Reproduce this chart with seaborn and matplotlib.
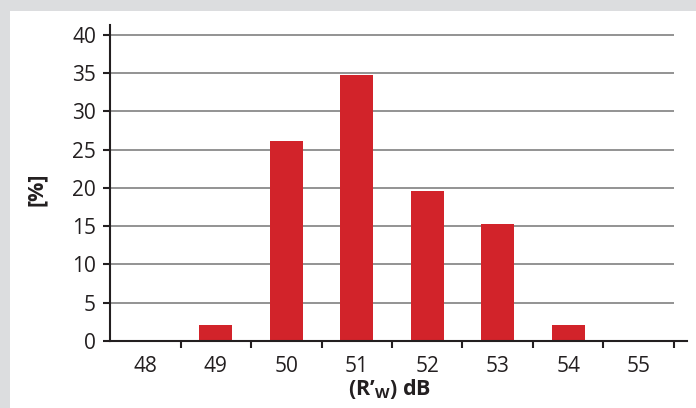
import seaborn as sns
import matplotlib.pyplot as plt
import matplotlib.patches as patches
import pandas as pd

# Distribution of R'w values (percent of measurements)
categories = ['48', '49', '50', '51', '52', '53', '54', '55']
percent = [0, 2.1, 26.1, 34.7, 19.6, 15.3, 2.1, 0]
y_ticks = [0, 5, 10, 15, 20, 25, 30, 35, 40]

df = pd.DataFrame({'rw': categories, 'pct': percent})

sns.set_theme(style='white')
plt.rcParams['font.family'] = ['Open Sans', 'DejaVu Sans']
plt.rcParams['mathtext.fontset'] = 'custom'
plt.rcParams['mathtext.rm'] = 'Open Sans'
plt.rcParams['mathtext.bf'] = 'Open Sans:bold'

fig = plt.figure(figsize=(6.96, 4.08), dpi=100, facecolor='#dcdddf')
# white card on the grey background
fig.patches.append(patches.Rectangle((10 / 696, 0), 1, 1 - 11 / 408, transform=fig.transFigure,
                                     facecolor='white', edgecolor='none', zorder=-10))

ax = fig.add_axes([110 / 696, 1 - 341 / 408, (687 - 110) / 696, (341 - 25) / 408])
ax.set_facecolor('none')

sns.barplot(data=df, x='rw', y='pct', order=categories, color='#d2232a',
            saturation=1, width=0.47, linewidth=0, edgecolor='none', ax=ax, zorder=3)

ax.set_xlim(-0.5, 7.5 + 13 / 70.5)
ax.set_ylim(0, 41.3)

# horizontal grid lines
ax.hlines(y_ticks[1:], -0.5, 7.5, color='#8a8a8a', linewidth=1.3, zorder=1)

sns.despine(ax=ax, top=True, right=True)
for s in ['left', 'bottom']:
    ax.spines[s].set_color('#231f20')
    ax.spines[s].set_linewidth(1.5)
    ax.spines[s].set_zorder(4)

fs = 15
ax.set_yticks(y_ticks)
ax.set_yticklabels([str(v) for v in y_ticks])
ax.tick_params(axis='y', direction='out', length=5, width=1.5, color='#231f20',
               labelsize=fs, labelcolor='#231f20', pad=5, left=True)

# category boundaries as ticks, labels at centres
ax.set_xticks([i + 0.5 for i in range(len(categories))])
ax.set_xticklabels([])
ax.set_xticks(range(len(categories)), minor=True)
ax.set_xticklabels(categories, minor=True)
ax.tick_params(axis='x', which='major', direction='out', length=5, width=1.5,
               color='#231f20', bottom=True)
ax.tick_params(axis='x', which='minor', length=0, labelsize=fs,
               labelcolor='#231f20', pad=11)

ax.set_xlabel(r"(R’$_{\mathbf{W}}$) dB", fontsize=fs + 0.5, fontweight='bold', color='#231f20')
ax.xaxis.set_label_coords((390 - 110) / (687 - 110), -0.115)
ax.set_ylabel('[%]', fontsize=fs + 0.5, fontweight='bold', color='#231f20')
ax.yaxis.set_label_coords(-(110 - 47) / (687 - 110), 0.48)

fig.savefig('out.png', dpi=100, facecolor=fig.get_facecolor())
